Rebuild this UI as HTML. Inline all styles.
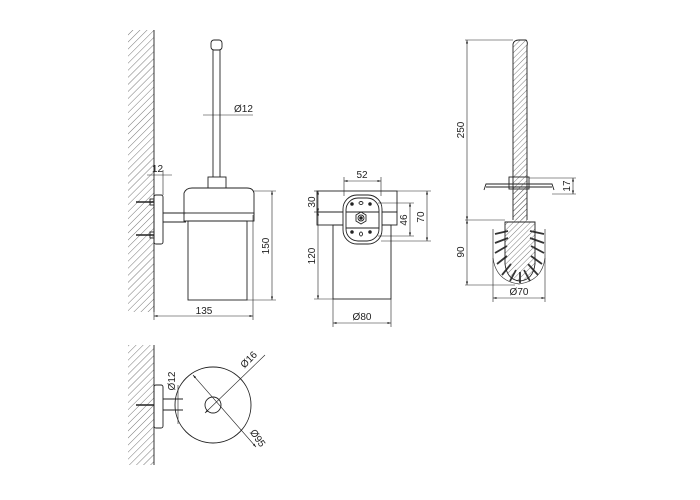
<!DOCTYPE html>
<html><head><meta charset="utf-8"><style>
html,body{margin:0;padding:0;background:#fff;}
svg{display:block}
text{font-family:"Liberation Sans",sans-serif;font-size:10px;fill:#222}
</style></head><body>
<svg width="700" height="500" viewBox="0 0 700 500" xmlns="http://www.w3.org/2000/svg">
<defs>
<pattern id="h" width="5" height="5" patternUnits="userSpaceOnUse" patternTransform="rotate(45)">
<line x1="0" y1="0" x2="0" y2="5" stroke="#555" stroke-width="0.8"/>
</pattern>
<pattern id="h2" width="4" height="4" patternUnits="userSpaceOnUse" patternTransform="rotate(45)">
<line x1="0" y1="0" x2="0" y2="4" stroke="#444" stroke-width="0.7"/>
</pattern>
<marker id="a" viewBox="0 0 10 10" refX="10" refY="5" markerWidth="6" markerHeight="6" orient="auto-start-reverse"><path d="M0,2L10,5L0,8z" fill="#222"/></marker>
</defs>
<g fill="none" stroke="#222" stroke-width="0.9">
<!-- View 1 -->
<rect x="128" y="30" width="26" height="282" fill="url(#h)" stroke="none"/>
<line x1="154" y1="30" x2="154" y2="312"/>
<rect x="211" y="40" width="11" height="10" rx="3"/>
<line x1="213" y1="50" x2="213" y2="177"/><line x1="220" y1="50" x2="220" y2="177"/>
<rect x="208" y="177" width="18" height="11"/>
<path d="M184,215 L184,193 Q186,188 192,188 L247,188 Q253,188 254,193 L254,215"/>
<rect x="184" y="213" width="70" height="8"/>
<rect x="188" y="221" width="59" height="79"/>
<rect x="154" y="195" width="9" height="49" rx="2"/>
<line x1="163" y1="213" x2="186" y2="213"/><line x1="163" y1="222" x2="186" y2="222"/>
<g stroke-width="1.4"><line x1="136" y1="202" x2="154" y2="202"/><line x1="136" y1="235" x2="154" y2="235"/></g>
<rect x="150" y="199" width="4" height="6"/><rect x="150" y="232" width="4" height="6"/>
<g stroke-width="0.6">
<line x1="203" y1="115" x2="253" y2="115"/>
<line x1="147" y1="175" x2="172" y2="175"/><line x1="163" y1="170" x2="163" y2="195"/>
<line x1="254" y1="191" x2="276" y2="191"/><line x1="247" y1="300" x2="276" y2="300"/>
<line x1="272" y1="191" x2="272" y2="300" marker-start="url(#a)" marker-end="url(#a)"/>
<line x1="154" y1="312" x2="154" y2="320"/><line x1="253" y1="215" x2="253" y2="320"/>
<line x1="154" y1="316" x2="253" y2="316" marker-start="url(#a)" marker-end="url(#a)"/>
</g>
<!-- View 2 -->
<rect x="317" y="191" width="80" height="21"/>
<rect x="317" y="212" width="80" height="13"/>
<rect x="333" y="225" width="58" height="74"/>
<rect x="343" y="195" width="39" height="49" rx="14" fill="#fff"/>
<rect x="346" y="198" width="33" height="43" rx="12"/>
<line x1="346" y1="212" x2="379" y2="212"/><line x1="346" y1="228" x2="379" y2="228"/>
<polygon points="361,212 366,215 366,221 361,224 356,221 356,215"/>
<circle cx="361" cy="218" r="3"/><circle cx="361" cy="218" r="1.3" fill="#222"/>
<circle cx="352" cy="204" r="1.3" fill="#222"/><circle cx="370" cy="204" r="1.3" fill="#222"/>
<circle cx="352" cy="232" r="1.3" fill="#222"/><circle cx="370" cy="232" r="1.3" fill="#222"/>
<ellipse cx="361" cy="203" rx="2" ry="1.5"/><ellipse cx="361" cy="234" rx="1.5" ry="2"/>
<g stroke-width="0.6">
<line x1="344" y1="177" x2="344" y2="196"/><line x1="381" y1="177" x2="381" y2="196"/>
<line x1="344" y1="181" x2="381" y2="181" marker-start="url(#a)" marker-end="url(#a)"/>
<line x1="314" y1="191" x2="317" y2="191"/><line x1="314" y1="212" x2="317" y2="212"/><line x1="314" y1="299" x2="333" y2="299"/>
<line x1="318" y1="191" x2="318" y2="212" marker-start="url(#a)" marker-end="url(#a)"/>
<line x1="318" y1="212" x2="318" y2="299" marker-start="url(#a)" marker-end="url(#a)"/>
<line x1="378" y1="203" x2="414" y2="203"/><line x1="378" y1="236" x2="414" y2="236"/>
<line x1="410" y1="203" x2="410" y2="236" marker-start="url(#a)" marker-end="url(#a)"/>
<line x1="397" y1="191" x2="431" y2="191"/><line x1="381" y1="241" x2="431" y2="241"/>
<line x1="427" y1="191" x2="427" y2="241" marker-start="url(#a)" marker-end="url(#a)"/>
<line x1="333" y1="299" x2="333" y2="327"/><line x1="391" y1="299" x2="391" y2="327"/>
<line x1="333" y1="323" x2="391" y2="323" marker-start="url(#a)" marker-end="url(#a)"/>
</g>
<!-- View 3 -->
<path d="M513,220 L513,44 Q514,40 519,40 L526,40 Q528,42 527,46 L527,220" fill="url(#h2)"/>
<rect x="509" y="177" width="20" height="12"/>
<path d="M484,190 L486,184 L552,184 L554,190"/><line x1="486" y1="187" x2="552" y2="187"/>
<g stroke="#333" stroke-width="0.7">
<path d="M493,229 L493,258 Q496,281 519,284 Q542,281 545,258 L545,229"/>
<path d="M495,234 L508,231 M495,243 L508,238 M495,253 L507,246 M497,264 L507,256 M502,275 L511,264 M510,281 L516,270 M520,283 L520,272 M530,281 L524,270 M538,275 L528,264 M542,264 L531,256 M544,253 L531,246 M544,243 L530,238 M544,234 L530,231" stroke-width="1.8"/>
</g>
<path d="M505,222 L505,264 Q507,280 520,281 Q533,280 535,264 L535,222 Z" fill="url(#h2)" stroke="#222"/>
<rect x="513" y="190" width="14" height="32" fill="url(#h2)" stroke="none"/>
<g stroke-width="0.6">
<line x1="465" y1="40" x2="513" y2="40"/><line x1="465" y1="220" x2="505" y2="220"/><line x1="465" y1="285" x2="515" y2="285"/>
<line x1="467" y1="40" x2="467" y2="220" marker-start="url(#a)" marker-end="url(#a)"/>
<line x1="467" y1="220" x2="467" y2="285" marker-start="url(#a)" marker-end="url(#a)"/>
<line x1="529" y1="178" x2="576" y2="178"/><line x1="552" y1="194" x2="576" y2="194"/>
<line x1="573" y1="178" x2="573" y2="194" marker-start="url(#a)" marker-end="url(#a)"/>
<line x1="493" y1="258" x2="493" y2="302"/><line x1="545" y1="258" x2="545" y2="302"/>
<line x1="493" y1="298" x2="545" y2="298" marker-start="url(#a)" marker-end="url(#a)"/>
</g>
<!-- View 4 -->
<rect x="128" y="345" width="26" height="120" fill="url(#h)" stroke="none"/>
<line x1="154" y1="345" x2="154" y2="465"/>
<rect x="154" y="385" width="9" height="43" rx="2"/>
<line x1="163" y1="399" x2="183" y2="399"/><line x1="163" y1="410" x2="183" y2="410"/>
<line x1="136" y1="405" x2="154" y2="405" stroke-width="1.4"/>
<circle cx="213" cy="405" r="38"/>
<circle cx="213" cy="405" r="8"/>
<g stroke-width="0.6">
<line x1="193" y1="375" x2="256" y2="447" marker-start="url(#a)" marker-end="url(#a)"/>
<line x1="205" y1="413" x2="265" y2="355" marker-start="url(#a)"/>
<line x1="178" y1="385" x2="178" y2="424"/>
</g>
</g>
<text x="234" y="112">Ø12</text>
<text x="152" y="172">12</text>
<text transform="translate(269,246) rotate(-90)" text-anchor="middle">150</text>
<text x="204" y="314" text-anchor="middle">135</text>
<text x="362" y="178" text-anchor="middle">52</text>
<text transform="translate(315,202) rotate(-90)" text-anchor="middle">30</text>
<text transform="translate(315,256) rotate(-90)" text-anchor="middle">120</text>
<text transform="translate(407,220) rotate(-90)" text-anchor="middle">46</text>
<text transform="translate(424,217) rotate(-90)" text-anchor="middle">70</text>
<text x="362" y="320" text-anchor="middle">Ø80</text>
<text transform="translate(464,130) rotate(-90)" text-anchor="middle">250</text>
<text transform="translate(464,252) rotate(-90)" text-anchor="middle">90</text>
<text transform="translate(570,186) rotate(-90)" text-anchor="middle">17</text>
<text x="519" y="295" text-anchor="middle">Ø70</text>
<text transform="translate(175,381) rotate(-90)" text-anchor="middle">Ø12</text>
<text transform="translate(251,362) rotate(-45)" text-anchor="middle">Ø16</text>
<text transform="translate(255,440) rotate(55)" text-anchor="middle">Ø95</text>
</svg>
</body></html>
